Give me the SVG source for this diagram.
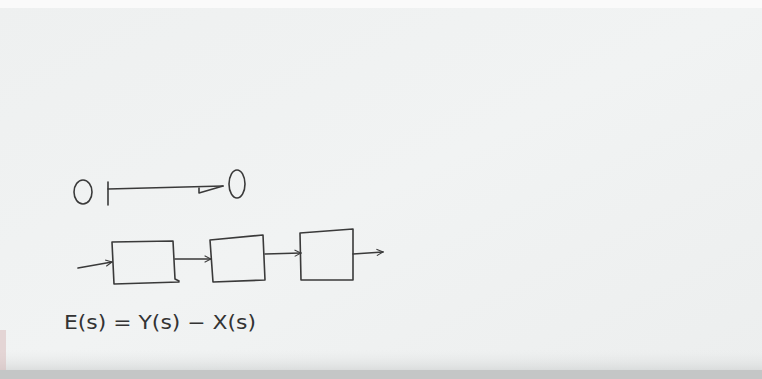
<svg xmlns="http://www.w3.org/2000/svg" width="762" height="379" viewBox="0 0 762 379">
<defs>
<linearGradient id="bg" x1="0" y1="0" x2="1" y2="1">
<stop offset="0" stop-color="#eef0f0"/>
<stop offset="0.5" stop-color="#f1f3f3"/>
<stop offset="1" stop-color="#eceeee"/>
</linearGradient>
<linearGradient id="bot" x1="0" y1="0" x2="0" y2="1">
<stop offset="0" stop-color="#e6e8e8" stop-opacity="0"/>
<stop offset="1" stop-color="#c9cccc"/>
</linearGradient>
<marker id="ah" viewBox="0 0 10 10" refX="9" refY="5" markerWidth="8" markerHeight="8" orient="auto" markerUnits="userSpaceOnUse">
<path d="M1,1 L9,5 L1,9" fill="none" stroke="#3a3a3a" stroke-width="1.3"/>
</marker>
<style>
.ink{fill:none;stroke:#3a3a3a;stroke-width:1.6;stroke-linecap:round;stroke-linejoin:round}
.hw{font-family:"DejaVu Sans",sans-serif;font-size:19px;fill:#333333}
</style>
</defs>
<rect width="762" height="379" fill="url(#bg)"/>
<rect x="0" y="0" width="762" height="8" fill="#fafafa"/>
<rect x="0" y="350" width="762" height="29" fill="url(#bot)"/>
<rect x="0" y="370" width="762" height="9" fill="#c4c6c6"/>
<rect x="0" y="330" width="6" height="40" fill="#d8b8b8" opacity="0.5"/>

<g id="input-circle"><ellipse class="ink" cx="83" cy="192" rx="9" ry="12"/></g>
<g id="output-circle"><ellipse class="ink" cx="237" cy="184" rx="8" ry="14"/></g>
<g id="block1"><path class="ink" d="M112,242 L173,241 L175,279 L179,281 M112,242 L114,284 L179,282"/></g>
<g id="block2"><path class="ink" d="M210,240 L263,235 L265,280 L213,282 Z"/></g>
<g id="block3"><path class="ink" d="M300,233 L353,229 L353,280 L301,280 Z"/></g>

<g id="connectors">
<path class="ink" d="M108,182 L108,205"/>
<path class="ink" d="M108,189 L223,186"/>
<path class="ink" d="M199,188 L199,193 L223,186"/>
<path class="ink" d="M78,268 L112,262" marker-end="url(#ah)"/>
<path class="ink" d="M175,259 L211,259" marker-end="url(#ah)"/>
<path class="ink" d="M265,254 L301,253" marker-end="url(#ah)"/>
<path class="ink" d="M353,254 L383,252" marker-end="url(#ah)"/>
</g>

<g id="equation"><text class="hw" x="64" y="329" textLength="192" lengthAdjust="spacingAndGlyphs">E(s) = Y(s) − X(s)</text></g>
</svg>
